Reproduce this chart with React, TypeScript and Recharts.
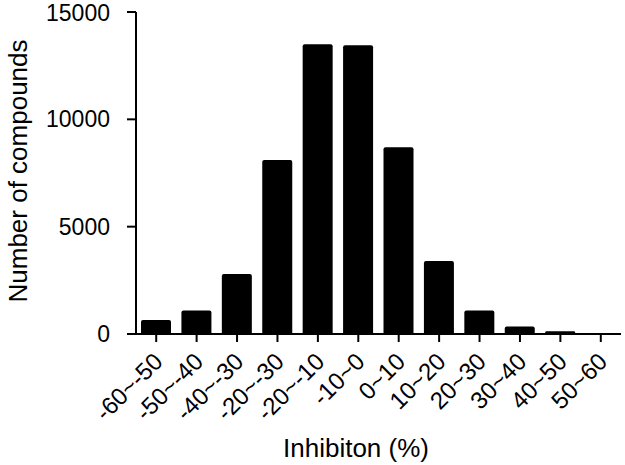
import { BarChart, Bar, XAxis, YAxis } from 'recharts';

const categories = ['-60~-50', '-50~-40', '-40~-30', '-20~-30', '-20~-10', '-10~0', '0~10', '10~20', '20~30', '30~40', '40~50', '50~60'];
const counts = [650, 1100, 2800, 8100, 13500, 13450, 8700, 3400, 1100, 350, 130, 20];
const yTicks = [0, 5000, 10000, 15000];

const data = categories.map((name, i) => ({ name, value: counts[i] }));

const FONT = '"Liberation Sans", Arial, sans-serif';

const XTick = (props: any) => {
  const { x, y, payload } = props;
  return (
    <g transform={`translate(${x + 8},${y + 19})`}>
      <text textAnchor="end" transform="rotate(-45)" fontSize={24} fontFamily={FONT} fill="#000">
        {payload.value}
      </text>
    </g>
  );
};

export default function App() {
  return (
    <div style={{ position: 'absolute', left: 0, top: 0, background: '#fff' }}>
      <BarChart width={625} height={465} data={data} margin={{ top: 12, right: 4, bottom: 0, left: 0 }}>
        <XAxis
          dataKey="name"
          height={131}
          interval={0}
          tickSize={8}
          tick={<XTick />}
          axisLine={{ stroke: '#000', strokeWidth: 2 }}
          tickLine={{ stroke: '#000', strokeWidth: 2 }}
          label={{
            content: () => (
              <text x={356} y={457} textAnchor="middle" fontSize={26} fontFamily={FONT} fill="#000">
                Inhibiton (%)
              </text>
            ),
          }}
        />
        <YAxis
          width={136}
          domain={[0, 15000]}
          ticks={yTicks}
          tickSize={9}
          tickMargin={17}
          tick={{ fontSize: 23, fontFamily: FONT, fill: '#000' }}
          axisLine={{ stroke: '#000', strokeWidth: 2 }}
          tickLine={{ stroke: '#000', strokeWidth: 2 }}
          label={{
            content: () => (
              <text x={27} y={171} textAnchor="middle" transform="rotate(-90 27 171)" fontSize={26} fontFamily={FONT} fill="#000">
                Number of compounds
              </text>
            ),
          }}
        />
        <Bar dataKey="value" fill="#000" barSize={30} radius={[2, 2, 0, 0]} isAnimationActive={false} />
      </BarChart>
    </div>
  );
}
